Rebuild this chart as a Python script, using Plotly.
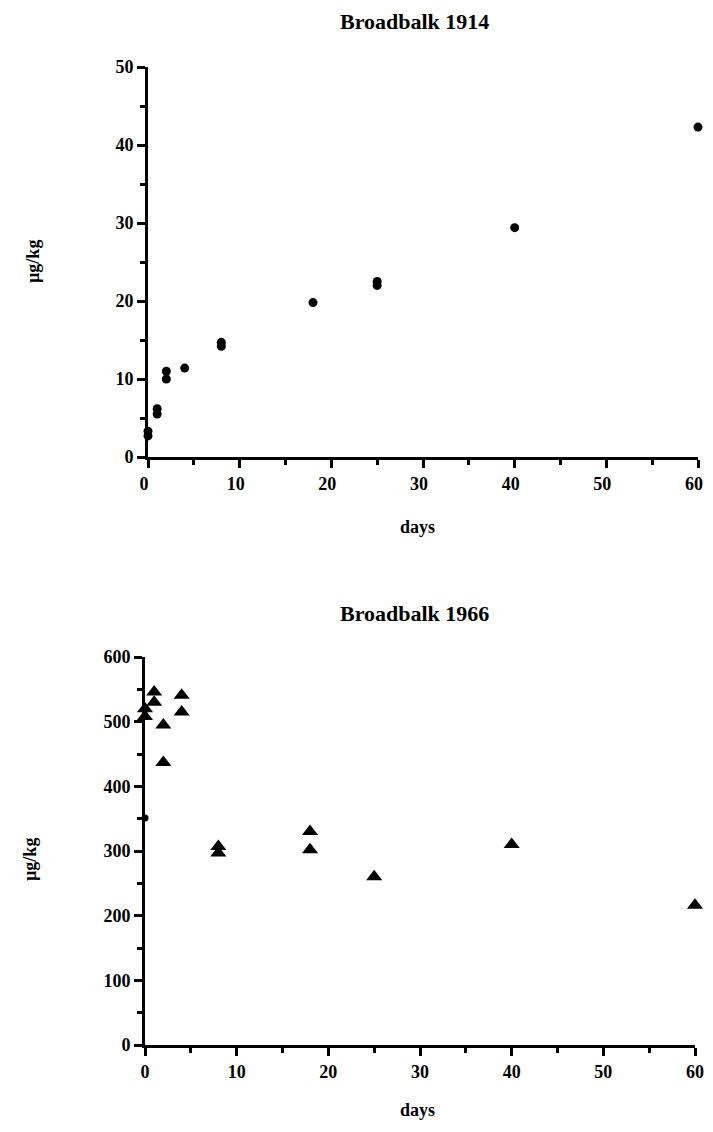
import plotly.graph_objects as go

# page body has an 8px margin; draw the figure so it fits inside the window
OFF = 8
W, H = 713 - OFF, 1132 - 2 * OFF

# Broadbalk 1914 (circles)
days_1914 = [0, 0, 1, 1, 2, 2, 4, 8, 8, 18, 25, 25, 40, 60]
vals_1914 = [3.3, 2.7, 6.2, 5.5, 11.0, 10.0, 11.4, 14.7, 14.2, 19.8, 22.5, 22.0, 29.4, 42.3]

# Broadbalk 1966 (triangles)
days_1966 = [0, 0, 1, 1, 2, 2, 4, 4, 8, 8, 18, 18, 25, 40, 60]
vals_1966 = [520, 508, 546, 530, 495, 437, 541, 515, 307, 297, 330, 302, 260, 310, 216]
# stray small dot on the axis in 1966 panel
days_1966_dot = [0]
vals_1966_dot = [351]

x_ticks = [0, 10, 20, 30, 40, 50, 60]
y_ticks_1914 = [0, 10, 20, 30, 40, 50]
y_ticks_1966 = [0, 100, 200, 300, 400, 500, 600]

FONT = "Liberation Serif"

fig = go.Figure()
fig.add_trace(go.Scatter(x=days_1914, y=vals_1914, mode="markers",
                         marker=dict(symbol="circle", size=9, color="black"),
                         xaxis="x", yaxis="y", cliponaxis=False, showlegend=False))
fig.add_trace(go.Scatter(x=days_1966, y=vals_1966, mode="markers",
                         marker=dict(symbol="triangle-up", size=14, color="black"),
                         xaxis="x2", yaxis="y2", cliponaxis=False, showlegend=False))
fig.add_trace(go.Scatter(x=days_1966_dot, y=vals_1966_dot, mode="markers",
                         marker=dict(symbol="circle", size=7, color="black"),
                         xaxis="x2", yaxis="y2", cliponaxis=False, showlegend=False))


def px_x(p):
    return (p - OFF) / W


def px_y(p):
    return 1 - (p - OFF) / H


tickfont = dict(family=FONT, size=18, color="black", weight="bold")
common_axis = dict(showline=True, linewidth=3, linecolor="black", ticks="outside",
                   ticklen=8, tickwidth=3, tickcolor="black", showgrid=False,
                   zeroline=False, tickfont=tickfont, fixedrange=True, automargin=False)

fig.update_layout(
    width=W, height=H,
    margin=dict(l=0, r=0, t=0, b=0),
    paper_bgcolor="white", plot_bgcolor="white",
    font=dict(family=FONT, color="black"),
    xaxis=dict(domain=[px_x(148), px_x(698)], anchor="y", range=[0, 60],
               tickvals=x_ticks, ticktext=[str(v) for v in x_ticks], ticklabelshift=-4,
               minor=dict(tickvals=[5, 15, 25, 35, 45, 55], ticklen=5, tickwidth=3,
                          tickcolor="black", ticks="outside"),
               **common_axis),
    yaxis=dict(domain=[px_y(457), px_y(67)], anchor="x", range=[0, 50],
               tickvals=y_ticks_1914, ticktext=[str(v) for v in y_ticks_1914],
               minor=dict(tickvals=[5, 15, 25, 35, 45], ticklen=5, tickwidth=3,
                          tickcolor="black", ticks="outside"),
               **common_axis),
    xaxis2=dict(domain=[px_x(145), px_x(695)], anchor="y2", range=[0, 60],
                tickvals=x_ticks, ticktext=[str(v) for v in x_ticks],
                minor=dict(tickvals=[5, 15, 25, 35, 45, 55], ticklen=5, tickwidth=3,
                           tickcolor="black", ticks="outside"),
                **common_axis),
    yaxis2=dict(domain=[px_y(1045), px_y(657)], anchor="x2", range=[0, 600],
                tickvals=y_ticks_1966, ticktext=[str(v) for v in y_ticks_1966],
                minor=dict(tickvals=[50, 150, 250, 350, 450, 550], ticklen=5, tickwidth=3,
                           tickcolor="black", ticks="outside"),
                **common_axis),
)

ann_font = dict(family=FONT, size=18, color="black")
title_font = dict(family=FONT, size=22, color="black")
annots = [
    dict(text="<b>Broadbalk 1914</b>", x=px_x(415), y=px_y(22), font=title_font),
    dict(text="<b>Broadbalk 1966</b>", x=px_x(415), y=px_y(613), font=title_font),
    dict(text="<b>days</b>", x=px_x(418), y=px_y(527), font=ann_font),
    dict(text="<b>days</b>", x=px_x(418), y=px_y(1110), font=ann_font),
    dict(text="<b>µg/kg</b>", x=px_x(33), y=px_y(262), font=ann_font, textangle=-90),
    dict(text="<b>µg/kg</b>", x=px_x(30), y=px_y(860), font=ann_font, textangle=-90),
]
for a in annots:
    fig.add_annotation(xref="paper", yref="paper", showarrow=False,
                       xanchor="center", yanchor="middle", **a)

fig.write_html("out.html")
